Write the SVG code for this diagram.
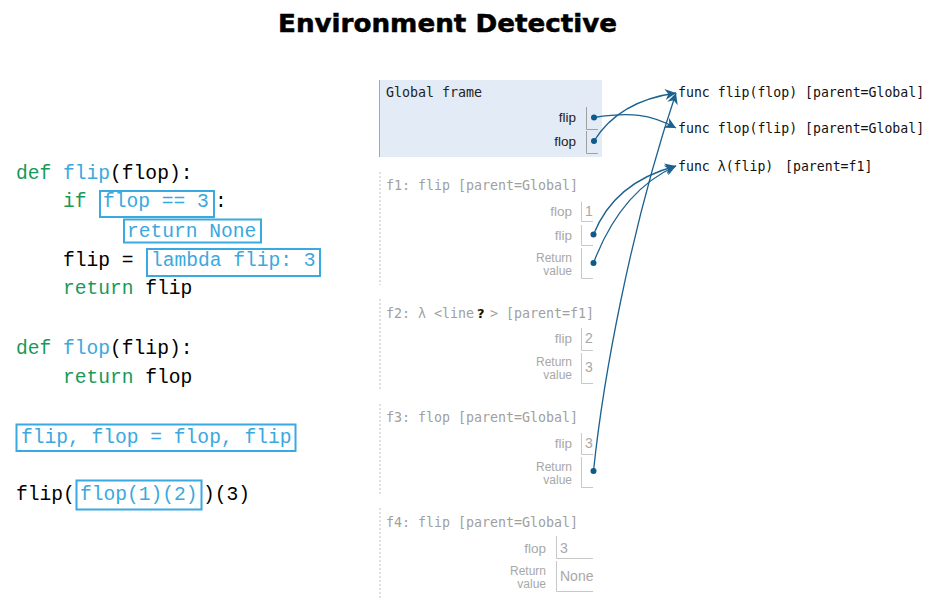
<svg xmlns="http://www.w3.org/2000/svg" width="944" height="608" viewBox="0 0 944 608">
<style>
.title{font-family:"DejaVu Sans",sans-serif;font-weight:bold;font-size:24px;fill:#000;stroke:#000;stroke-width:0.5}
.code{font-family:"Liberation Mono","DejaVu Sans Mono",monospace;font-size:19.6px;fill:#000}
.kw{fill:#17995a}
.fn{fill:#3aa9e0}
.hlbox{fill:none;stroke:#3aa9e0;stroke-width:2}
.ftitle{font-family:"DejaVu Sans Mono",monospace;font-size:13.3px;fill:#a0a0a0}
.gtitle{font-family:"DejaVu Sans Mono",monospace;font-size:13.3px;fill:#222}
.var{font-family:"Liberation Sans",Arial,sans-serif;font-size:13.5px;fill:#a8a8a8;text-anchor:end}
.gvar{font-family:"Liberation Sans",Arial,sans-serif;font-size:13.5px;fill:#222;text-anchor:end}
.rv{font-family:"Liberation Sans",Arial,sans-serif;font-size:12px;fill:#a8a8a8;text-anchor:end}
.val{font-family:"Liberation Sans",Arial,sans-serif;font-size:14px;fill:#a8a8a8}
.cell{fill:none;stroke:#c8c8c8;stroke-width:1}
.gcell{fill:none;stroke:#a0a0a0;stroke-width:1}
.fborder{stroke:#c0c0c0;stroke-width:1;stroke-dasharray:2,2}
.func{font-family:"DejaVu Sans Mono",monospace;font-size:13.2px;fill:#111}
.conn{fill:none;stroke:#1b628f;stroke-width:1.3}
.dot{fill:#0e5a8a}
</style>
<defs>
<marker id="arr" viewBox="0 0 10 10" refX="10" refY="5" markerWidth="11" markerHeight="11" markerUnits="userSpaceOnUse" orient="auto">
<path d="M0,0 L10,5 L0,10 L3,5 z" fill="#1b628f"/>
</marker>
</defs>
<rect width="944" height="608" fill="#ffffff"/>

<g id="title">
<text class="title" x="447.5" y="32" text-anchor="middle" textLength="339" lengthAdjust="spacingAndGlyphs">Environment Detective</text>
</g>

<g id="code">
<text class="code" x="16" y="179" xml:space="preserve"><tspan class="kw">def </tspan><tspan class="fn">flip</tspan>(flop):</text>
<text class="code kw" x="63" y="207">if</text>
<rect class="hlbox" x="100" y="191" width="114" height="26"/>
<text class="code fn" x="103" y="207" xml:space="preserve">flop == 3</text>
<text class="code" x="215" y="207">:</text>
<rect class="hlbox" x="124" y="219.5" width="137" height="23"/>
<text class="code fn" x="127" y="237" xml:space="preserve">return None</text>
<text class="code" x="63" y="266" xml:space="preserve">flip = </text>
<rect class="hlbox" x="147" y="249" width="173" height="27"/>
<text class="code fn" x="151" y="266" xml:space="preserve">lambda flip: 3</text>
<text class="code" x="63" y="294" xml:space="preserve"><tspan class="kw">return </tspan>flip</text>
<text class="code" x="16" y="354" xml:space="preserve"><tspan class="kw">def </tspan><tspan class="fn">flop</tspan>(flip):</text>
<text class="code" x="63" y="383" xml:space="preserve"><tspan class="kw">return </tspan>flop</text>
<rect class="hlbox" x="16.5" y="424.5" width="279" height="26.5"/>
<text class="code fn" x="21" y="443" xml:space="preserve">flip, flop = flop, flip</text>
<text class="code" x="16" y="500">flip(</text>
<rect class="hlbox" x="76.5" y="480.5" width="125" height="29"/>
<text class="code fn" x="80" y="500">flop(1)(2)</text>
<text class="code" x="203" y="500">)(3)</text>
</g>

<g id="global-frame">
<rect x="379" y="80" width="223" height="77" fill="#e2ebf6"/>
<line x1="379.5" y1="80" x2="379.5" y2="157" stroke="#a8a8a8"/>
<text class="gtitle" x="386" y="97">Global frame</text>
<text class="gvar" x="576" y="122">flip</text>
<path class="gcell" d="M586.5,107 V129.5 H598"/>
<text class="gvar" x="576" y="146">flop</text>
<path class="gcell" d="M586.5,131 V153.5 H598"/>
</g>

<g id="frame-f1">
<line class="fborder" x1="380" y1="172" x2="380" y2="285"/>
<text class="ftitle" x="386" y="190">f1: flip [parent=Global]</text>
<text class="var" x="572" y="216">flop</text>
<path class="cell" d="M581.5,201.5 V221.5 H593"/>
<text class="val" x="585" y="216">1</text>
<text class="var" x="572" y="240">flip</text>
<path class="cell" d="M581.5,225 V245.5 H593"/>
<text class="rv" x="572" y="262">Return</text>
<text class="rv" x="572" y="275">value</text>
<path class="cell" d="M581.5,248 V278.5 H593"/>
</g>

<g id="frame-f2">
<line class="fborder" x1="380" y1="299" x2="380" y2="391"/>
<text class="ftitle" x="386" y="318">f2: λ &lt;line</text>
<text x="477" y="318" font-family="'DejaVu Sans',sans-serif" font-weight="bold" font-size="13px" fill="#111">?</text>
<text class="ftitle" x="490" y="318">&gt;</text>
<text class="ftitle" x="506" y="318">[parent=f1]</text>
<text class="var" x="572" y="343">flip</text>
<path class="cell" d="M581.5,328 V350.5 H593"/>
<text class="val" x="585" y="343">2</text>
<text class="rv" x="572" y="366">Return</text>
<text class="rv" x="572" y="379">value</text>
<path class="cell" d="M581.5,353 V383.5 H593"/>
<text class="val" x="585" y="372">3</text>
</g>

<g id="frame-f3">
<line class="fborder" x1="380" y1="404" x2="380" y2="494"/>
<text class="ftitle" x="386" y="422">f3: flop [parent=Global]</text>
<text class="var" x="572" y="448">flip</text>
<path class="cell" d="M581.5,433 V454.5 H593"/>
<text class="val" x="585" y="448">3</text>
<text class="rv" x="572" y="471">Return</text>
<text class="rv" x="572" y="484">value</text>
<path class="cell" d="M581.5,457 V487.5 H593"/>
</g>

<g id="frame-f4">
<line class="fborder" x1="380" y1="508" x2="380" y2="598"/>
<text class="ftitle" x="386" y="527">f4: flip [parent=Global]</text>
<text class="var" x="546" y="553">flop</text>
<path class="cell" d="M556.5,536 V558.5 H593"/>
<text class="val" x="560" y="553">3</text>
<text class="rv" x="546" y="575">Return</text>
<text class="rv" x="546" y="588">value</text>
<path class="cell" d="M556.5,561 V591.5 H593"/>
<text class="val" x="560" y="581" font-size="13px">None</text>
</g>

<g id="func-flip">
<text class="func" x="678" y="97">func flip(flop) [parent=Global]</text>
</g>
<g id="func-flop">
<text class="func" x="678" y="133">func flop(flip) [parent=Global]</text>
</g>
<g id="func-lambda">
<text class="func" x="678" y="171">func λ(flip) <tspan x="785">[parent=f1]</tspan></text>
</g>

<g id="connectors">
<path class="conn" d="M594,117.5 C630,112 650,114 676,128" marker-end="url(#arr)"/>
<path class="conn" d="M594,141 C612,112 640,98 676,93" marker-end="url(#arr)"/>
<path class="conn" d="M593.5,234.5 C608,198 638,176 676,166" marker-end="url(#arr)"/>
<path class="conn" d="M593.5,263 C612,214 640,182 676,166" marker-end="url(#arr)"/>
<path class="conn" d="M593.5,471 C603,380 630,230 676,93" marker-end="url(#arr)"/>
<circle class="dot" cx="594" cy="117.5" r="3"/>
<circle class="dot" cx="594" cy="141" r="3"/>
<circle class="dot" cx="593.5" cy="234.5" r="3"/>
<circle class="dot" cx="593.5" cy="263" r="3"/>
<circle class="dot" cx="593.5" cy="471" r="3"/>
</g>
</svg>
